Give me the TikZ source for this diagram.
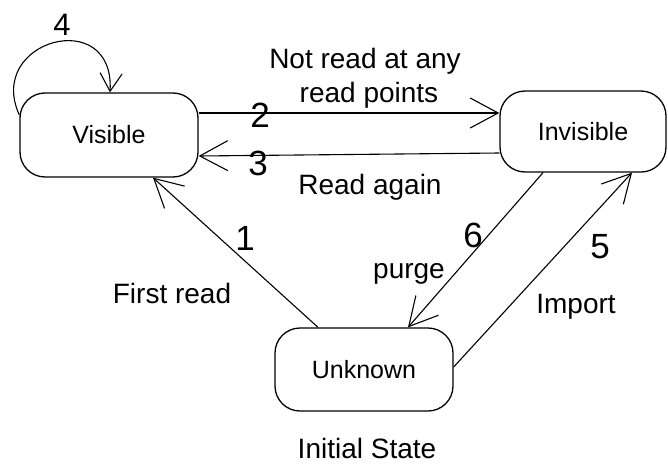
\documentclass[tikz,border=0pt]{standalone}
\usepackage{fontspec}
\setmainfont{Liberation Sans}
\usetikzlibrary{arrows.meta}
\begin{document}
\begin{tikzpicture}[x=1pt,y=-1pt,
  state/.style={draw,line width=1.3pt,rounded corners=25pt,inner sep=0pt,font=\fontsize{25}{30}\selectfont},
  conn/.style={line width=1.1pt,-{Straight Barb[length=28pt,width=30pt,line width=1.1pt]}},
  lbl/.style={anchor=base,inner sep=0pt,font=\fontsize{28}{34}\selectfont},
  num/.style={anchor=base,inner sep=0pt,font=\fontsize{35}{40}\selectfont}]
\useasboundingbox (0,0) rectangle (668,463);
\fill[white] (0,0) rectangle (668,463);
\node[state,minimum width=178pt,minimum height=84pt] (vis) at (109,135) {Visible};
\node[state,minimum width=166pt,minimum height=81pt] (inv) at (583,131.5) {Invisible};
\node[state,minimum width=178pt,minimum height=83pt] (unk) at (364,369.5) {Unknown};
% connectors
\draw[conn] ([yshift=22pt]vis.east) -- ([yshift=18.5pt]inv.west);
\draw[conn] ([yshift=-21.5pt]inv.west) -- ([yshift=-21pt]vis.east);
\draw[conn] ([xshift=-46pt]unk.north) -- ([xshift=44pt]vis.south);
\draw[conn] ([xshift=-40pt]inv.south) -- ([xshift=44pt]unk.north);
\draw[conn] ([yshift=2.5pt]unk.east) -- ([xshift=49pt]inv.south);
\draw[line width=1.1pt,-{Straight Barb[length=18pt,width=22pt,line width=1.1pt]}]
  ([yshift=20pt]vis.west) .. controls (-15,40) and (115,5) .. ([xshift=1pt]vis.north);
% labels
\node[num,font=\fontsize{31}{36}\selectfont] (n4) at (62,35) {4};
\node[num] (n2) at (260,127) {2};
\node[num] (n3) at (258,175) {3};
\node[num] (n1) at (245,250) {1};
\node[num] (n6) at (473,247) {6};
\node[num] (n5) at (600,258) {5};
\node[lbl] (l2a) at (365,68) {Not read at any};
\node[lbl] (l2b) at (369,102) {read points};
\node[lbl] (l3) at (370,194) {Read again};
\node[lbl] (l1) at (172,303) {First read};
\node[lbl] (l6) at (409,278) {purge};
\node[lbl] (l5) at (576,313) {Import};
\node[lbl] (init) at (367,458) {Initial State};
\end{tikzpicture}
\end{document}
